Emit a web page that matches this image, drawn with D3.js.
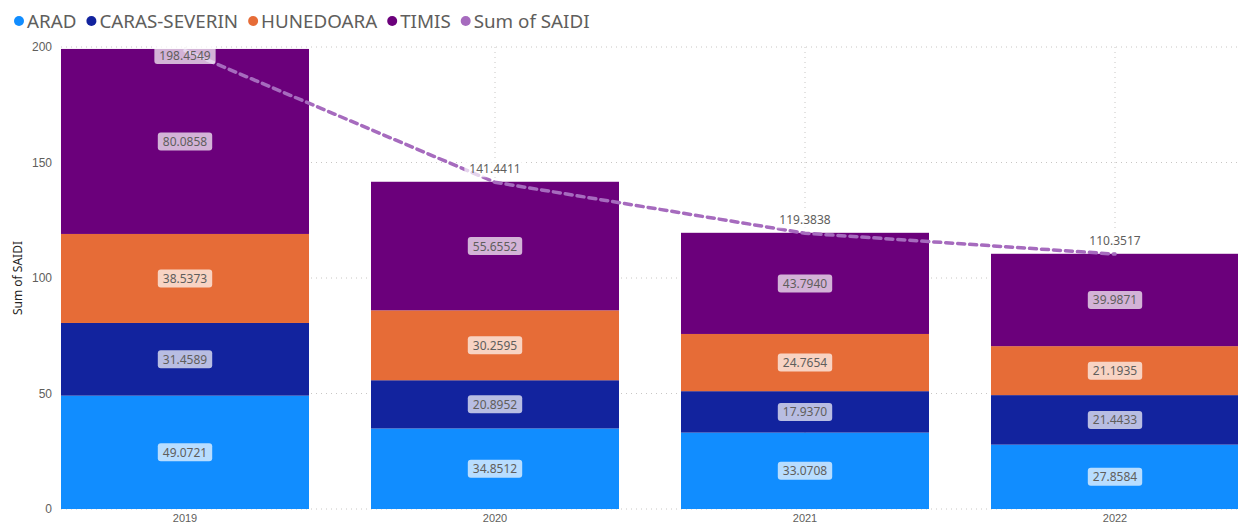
<!DOCTYPE html>
<html>
<head>
<meta charset="utf-8">
<script src="https://cdn.jsdelivr.net/npm/d3@7"></script>
<style>
  html, body { margin: 0; padding: 0; background: #fff; }
  svg { display: block; font-family: "Segoe UI", "Noto Sans", "Open Sans", sans-serif; }
</style>
</head>
<body>
<svg id="chart" width="1238" height="527"></svg>
<script>
// SAIDI per county, stacked by year, with the yearly total as a dashed line
const years = ["2019", "2020", "2021", "2022"];
const counties = ["ARAD", "CARAS-SEVERIN", "HUNEDOARA", "TIMIS"];
const arad = [49.0721, 34.8512, 33.0708, 27.8584];
const carasSeverin = [31.4589, 20.8952, 17.9370, 21.4433];
const hunedoara = [38.5373, 30.2595, 24.7654, 21.1935];
const timis = [80.0858, 55.6552, 43.7940, 39.9871];
const sumOfSaidi = [198.4549, 141.4411, 119.3838, 110.3517];
const yTicks = [0, 50, 100, 150, 200];
const lineName = "Sum of SAIDI";

const colors = ["#118DFF", "#12239E", "#E66C37", "#6B007B"];
const lineColor = "#A66BBE";

const svg = d3.select("#chart");
const margin = { top: 47, right: -1, bottom: 18, left: 61 };
const W = +svg.attr("width"), H = +svg.attr("height");
const plotBottom = H - margin.bottom;

const x = d3.scaleBand().domain(years).range([margin.left, W - margin.right]).paddingInner(0.2).paddingOuter(0);
const y = d3.scaleLinear().domain([0, 200]).range([plotBottom, margin.top]);

// rows for stacking
const rows = years.map((yr, i) => ({
  year: yr,
  "ARAD": arad[i],
  "CARAS-SEVERIN": carasSeverin[i],
  "HUNEDOARA": hunedoara[i],
  "TIMIS": timis[i]
}));
const stacked = d3.stack().keys(counties)(rows);

// grid
const grid = svg.append("g");
grid.selectAll("line.h").data(yTicks).join("line")
  .attr("x1", margin.left).attr("x2", W)
  .attr("y1", d => y(d)).attr("y2", d => y(d))
  .attr("stroke", "#c8c6c4").attr("stroke-width", 1).attr("stroke-dasharray", "1,4");
grid.selectAll("line.v").data(years).join("line")
  .attr("x1", d => x(d) + x.bandwidth() / 2).attr("x2", d => x(d) + x.bandwidth() / 2)
  .attr("y1", margin.top).attr("y2", plotBottom)
  .attr("stroke", "#c8c6c4").attr("stroke-width", 1).attr("stroke-dasharray", "1,4");

// y axis
const yAxis = svg.append("g")
  .attr("transform", `translate(${margin.left - 9},0)`)
  .call(d3.axisLeft(y).tickValues(yTicks).tickSize(0).tickPadding(0));
yAxis.select(".domain").remove();
yAxis.selectAll("text").attr("fill", "#605E5C").style("font-size", "12px");

// x axis
const xAxis = svg.append("g")
  .attr("transform", `translate(0,${plotBottom + 5})`)
  .call(d3.axisBottom(x).tickSize(0).tickPadding(0));
xAxis.select(".domain").remove();
xAxis.selectAll("text").attr("fill", "#605E5C").style("font-size", "11px");

// y axis title
svg.append("text")
  .attr("transform", `translate(22,${(margin.top + plotBottom) / 2}) rotate(-90)`)
  .attr("text-anchor", "middle")
  .attr("fill", "#252423")
  .style("font-size", "12px")
  .text(lineName);

// bars
const barG = svg.append("g");
stacked.forEach((layer, li) => {
  barG.selectAll(null).data(layer).join("rect")
    .attr("x", (d, i) => x(years[i]))
    .attr("width", x.bandwidth())
    .attr("y", d => y(d[1]))
    .attr("height", d => y(d[0]) - y(d[1]))
    .attr("fill", colors[li]);
});

// dashed total line
const line = d3.line()
  .x((d, i) => x(years[i]) + x.bandwidth() / 2)
  .y(d => y(d));
svg.append("path")
  .datum(sumOfSaidi)
  .attr("d", line)
  .attr("fill", "none")
  .attr("stroke", lineColor)
  .attr("stroke-width", 3.5)
  .attr("stroke-linecap", "round")
  .attr("stroke-dasharray", "7,5");

// label with translucent box
function boxLabel(g, cx, cy, text) {
  const grp = g.append("g");
  const t = grp.append("text")
    .attr("x", cx).attr("y", cy)
    .attr("text-anchor", "middle")
    .attr("dominant-baseline", "central")
    .attr("fill", "#605E5C")
    .style("font-size", "12px")
    .text(text);
  const w = t.node().getComputedTextLength() + 10;
  grp.insert("rect", "text")
    .attr("x", cx - w / 2).attr("y", cy - 9)
    .attr("width", w).attr("height", 18)
    .attr("rx", 3)
    .attr("fill", "#fff").attr("fill-opacity", 0.7);
}

const labelG = svg.append("g");
stacked.forEach(layer => {
  layer.forEach((d, i) => {
    const v = d[1] - d[0];
    boxLabel(labelG, x(years[i]) + x.bandwidth() / 2, y((d[0] + d[1]) / 2), v.toFixed(4));
  });
});
sumOfSaidi.forEach((v, i) => {
  const cy = Math.max(y(v) - 14, margin.top + 8);
  boxLabel(labelG, x(years[i]) + x.bandwidth() / 2, cy, v.toFixed(4));
});

// legend
const legend = svg.append("g").attr("transform", "translate(0,21)");
const legendItems = counties.map((c, i) => ({ name: c, color: colors[i] }))
  .concat([{ name: lineName, color: lineColor }]);
let lx = 14;
legendItems.forEach(item => {
  legend.append("circle").attr("cx", lx + 5).attr("cy", 0).attr("r", 5).attr("fill", item.color);
  const t = legend.append("text")
    .attr("x", lx + 13).attr("y", 0)
    .attr("dominant-baseline", "central")
    .attr("fill", "#605E5C")
    .style("font-size", "18.8px")
    .text(item.name);
  lx += 13 + t.node().getComputedTextLength() + 10;
});
</script>
</body>
</html>
